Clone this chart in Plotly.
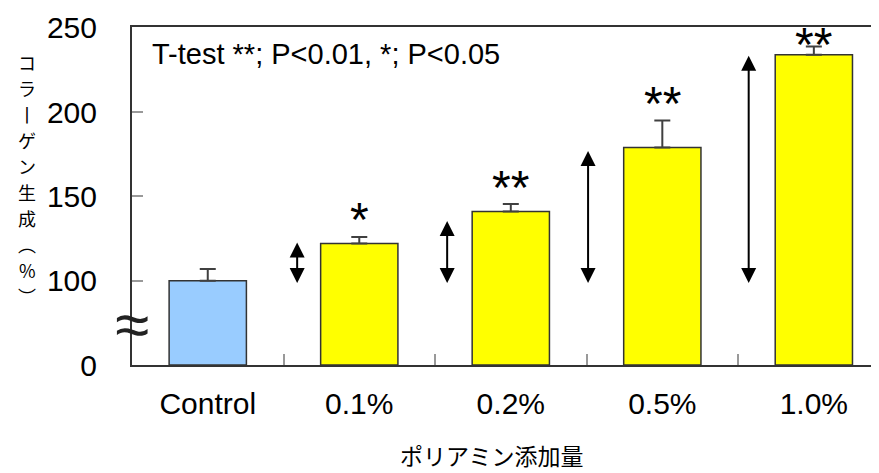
import plotly.graph_objects as go

categories = ["Control", "0.1%", "0.2%", "0.5%", "1.0%"]
values = [100, 122, 141, 179, 234]
errors = [7, 4, 4.5, 16, 5]
significance = ["", "*", "**", "**", "**"]
bar_colors = ["#99CCFF", "#FFFF00", "#FFFF00", "#FFFF00", "#FFFF00"]
tick_vals = [50, 100, 150, 200, 250]
tick_text = ["0", "100", "150", "200", "250"]
arrow_x = [0.59, 1.58, 2.51, 3.57]
arrow_top = [122.6, 135.4, 177.0, 233.5]
arrow_bottom = 97.7
y_label_chars = ["コ", "ラ", "丨", "ゲ", "ン", "生", "成", "︵", "%", "︶"]
x_title = "ポリアミン添加量"
note = "T-test **; P<0.01, *; P<0.05"

Y_RANGE = [50, 250.5]
OFF = 8  # default page body margin
W, H = 879 - OFF, 473 - OFF
L, R, T, B = 132 - OFF, 0, 27 - OFF, 108
PLOT_H = H - T - B
px_per_unit = PLOT_H / (Y_RANGE[1] - Y_RANGE[0])

LAT = "Liberation Sans, Arial, sans-serif"
CJK = "Noto Sans CJK JP, sans-serif"

fig = go.Figure()
fig.add_trace(go.Bar(
    x=categories, y=[v - Y_RANGE[0] for v in values], width=0.51,
    base=Y_RANGE[0],
    marker=dict(color=bar_colors, line=dict(color="#333333", width=1.5)),
    error_y=dict(type="data", symmetric=False, array=errors,
                 arrayminus=[0] * len(errors), color="#404040",
                 thickness=2, width=8),
))

annotations = []
# significance stars
for i, (v, e, s) in enumerate(zip(values, errors, significance)):
    if not s:
        continue
    y = min(v + e + 24 / px_per_unit, 244.3)
    annotations.append(dict(x=i, y=y, xref="x", yref="y", text=s,
                            showarrow=False, yanchor="middle", yshift=-7,
                            font=dict(family=LAT, size=48, color="black")))
# double-headed arrows
for ax_, top in zip(arrow_x, arrow_top):
    annotations.append(dict(x=ax_, y=top, ax=ax_, ay=arrow_bottom,
                            xref="x", yref="y", axref="x", ayref="y",
                            text="", showarrow=True, arrowside="end+start",
                            arrowhead=2, startarrowhead=2,
                            arrowsize=1.5, startarrowsize=1.5,
                            arrowwidth=2, arrowcolor="black"))
# note text (screen pixel positions)
annotations.append(dict(x=150, y=54, xref="paper", yref="paper", text=note,
                        showarrow=False, xanchor="left", yanchor="middle",
                        font=dict(family=LAT, size=29, color="black")))
# vertical y label (one character per line)
for k, ch in enumerate(y_label_chars):
    annotations.append(dict(x=27, y=62 + 26 * k, xref="paper", yref="paper",
                            text=ch, showarrow=False, borderpad=0,
                            xanchor="center", yanchor="middle",
                            font=dict(family=CJK, size=18, color="black")))
# x title
annotations.append(dict(x=492, y=455, xref="paper", yref="paper", text=x_title,
                        showarrow=False, xanchor="center", yanchor="middle",
                        borderpad=0,
                        font=dict(family=CJK, size=23, color="black")))
# axis break mark
annotations.append(dict(x=-0.5, y=74, xref="x", yref="y", text="≈",
                        showarrow=False, xanchor="center", yanchor="middle",
                        font=dict(family=LAT, size=62, color="#222222")))

# convert screen pixel coordinates to paper fractions
for a in annotations:
    if a["xref"] == "paper":
        a["x"] = (a["x"] - OFF - L) / (W - L - R)
    if a["yref"] == "paper":
        a["y"] = 1 - (a["y"] - OFF - T) / (H - T - B)

fig.update_layout(
    width=W, height=H,
    margin=dict(l=L, r=R, t=T, b=B, autoexpand=False),
    paper_bgcolor="white", plot_bgcolor="white",
    showlegend=False,
    annotations=annotations,
    xaxis=dict(type="category", range=[-0.5, 4.43], showline=True,
               linecolor="#333333", linewidth=2, mirror=True,
               tickson="boundaries", ticks="inside", ticklen=11,
               tickcolor="#999999", tickwidth=2, showgrid=False,
               ticklabelstandoff=11, automargin=False,
               tickfont=dict(family=LAT, size=30, color="black")),
    yaxis=dict(range=Y_RANGE, showline=True, linecolor="#333333", linewidth=2,
               tickvals=tick_vals, ticktext=tick_text, ticks="inside",
               ticklen=11, tickcolor="#999999", tickwidth=2, showgrid=False,
               zeroline=False, ticklabelstandoff=27, automargin=False,
               tickfont=dict(family=LAT, size=30, color="black")),
)

fig.write_html("out.html")
